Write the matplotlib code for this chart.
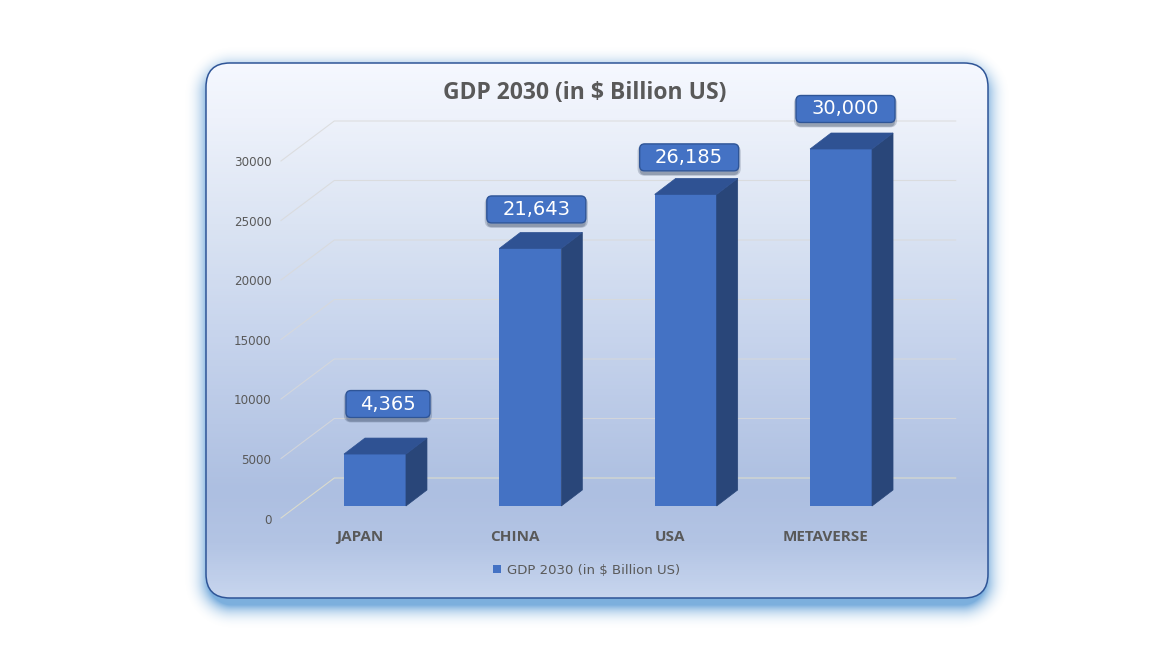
import numpy as np
import matplotlib
matplotlib.use('Agg')
import matplotlib.pyplot as plt
from matplotlib.patches import FancyBboxPatch
from matplotlib.colors import LinearSegmentedColormap
import matplotlib.patheffects as pe
from matplotlib.transforms import Affine2D

# data
categories = ['JAPAN', 'CHINA', 'USA', 'METAVERSE']
gdp = [4365, 21643, 26185, 30000]
gdp_labels = ['4,365', '21,643', '26,185', '30,000']
y_ticks = [0, 5000, 10000, 15000, 20000, 25000, 30000]
series_name = 'GDP 2030 (in $ Billion US)'

# layout, in pixels
W, H = 1170, 657
panel = (206, 63, 988, 598)
radius = 24
plot_left, plot_right, plot_top, plot_bottom = 297.3, 918.7, 149, 506
bar_depth = (21, 16)
wall_front = (-16.3, -12)
wall_back = (37, 28)
label_shift = [(13, 50), (6, 39), (3.5, 37), (4.5, 40)]
label_width = [84, 99, 99, 99]
label_height = 27

plt.rcParams['font.family'] = ['DejaVu Sans']
text_grey = '#595959'
blue = '#4472c4'
blue_top = '#2f5293'
blue_side = '#294679'

fig = plt.figure(figsize=(W / 100, H / 100), dpi=100)

# background: glow + gradient panel
bg = fig.add_axes([0, 0, 1, 1])
bg.set_xlim(0, W)
bg.set_ylim(H, 0)
bg.axis('off')

xx, yy = np.meshgrid(np.arange(W) + 0.5, np.arange(H) + 0.5)
cx, cy = (panel[0] + panel[2]) / 2, (panel[1] + panel[3]) / 2 + 7
qx = np.abs(xx - cx) - ((panel[2] - panel[0]) / 2 - radius - 2)
qy = np.abs(yy - cy) - ((panel[3] - panel[1]) / 2 - radius)
dist = np.hypot(np.maximum(qx, 0), np.maximum(qy, 0)) + np.minimum(np.maximum(qx, qy), 0) - radius
glow = np.zeros((H, W, 4))
glow[..., :3] = matplotlib.colors.to_rgb('#5b9bd5')
glow[..., 3] = 0.8 * np.clip(1 - np.clip(dist, 0, None) / 26, 0, 1) ** 2.6
bg.imshow(glow, extent=(0, W, H, 0), aspect='auto', zorder=1)

grad_cmap = LinearSegmentedColormap.from_list('panel', [
    (0.0, '#f5f8ff'), (0.1, '#eef2fb'), (0.3, '#dbe4f3'), (0.5, '#c8d5ed'),
    (0.8, '#adbfe1'), (0.9, '#b3c4e4'), (1.0, '#c7d5ee')])
panel_box = FancyBboxPatch((panel[0], panel[1]), panel[2] - panel[0], panel[3] - panel[1],
                           boxstyle='round,pad=0,rounding_size=%d' % radius,
                           fc='none', ec='#2f5597', lw=1.1, zorder=3)
bg.add_patch(panel_box)
grad = bg.imshow(np.linspace(0, 1, 535)[:, None], cmap=grad_cmap, aspect='auto', zorder=2,
                 extent=(panel[0], panel[2], panel[3], panel[1]))
grad.set_clip_path(panel_box)

# main plot, the bars' front plane
ax = fig.add_axes([plot_left / W, 1 - plot_bottom / H,
                   (plot_right - plot_left) / W, (plot_bottom - plot_top) / H])
ax.patch.set_alpha(0)
ax.set_xlim(-0.5, 3.5)
ax.set_ylim(0, 30000)
for s in ax.spines.values():
    s.set_visible(False)

px_x = (plot_right - plot_left) / 4
px_y = (plot_bottom - plot_top) / 30000

# grid: back wall and the left side wall
for v in y_ticks:
    fx, fy = wall_front[0] / px_x - 0.5, v + wall_front[1] / px_y
    bx, by = wall_back[0] / px_x - 0.5, v + wall_back[1] / px_y
    rx = wall_back[0] / px_x + 3.5
    col = '#e6e2c8' if v == 0 else '#d9d9d9'
    ax.plot([fx, bx, rx], [fy, by, by], color=col, lw=0.8, clip_on=False, zorder=1,
            alpha=0.8, solid_joinstyle='miter')

# bars
x = np.arange(len(categories))
bar_w = 62 / px_x
ax.bar(x, gdp, width=bar_w, color=blue, zorder=3, label=series_name, clip_on=False)
dx, dy = bar_depth[0] / px_x, bar_depth[1] / px_y
for xi, v in zip(x, gdp):
    x0, x1 = xi - bar_w / 2, xi + bar_w / 2
    ax.fill([x1, x1 + dx, x1 + dx, x1], [0, dy, v + dy, v], color=blue_side, lw=0.5, zorder=3, clip_on=False)
    ax.fill([x0, x0 + dx, x1 + dx, x1], [v, v + dy, v + dy, v], color=blue_top, lw=0.5, zorder=3, clip_on=False)

# value callouts
for xi, v, lab, shift, w in zip(x, gdp, gdp_labels, label_shift, label_width):
    px, py = ax.transData.transform((xi, v))
    px, py = px + shift[0], py + shift[1]
    box = FancyBboxPatch((px - w / 2, py - label_height / 2), w, label_height,
                         boxstyle='round,pad=0,rounding_size=5', fc=blue, ec='#2f5597', lw=1,
                         transform=None, zorder=5, clip_on=False)
    box.set_path_effects([
        pe.SimpleLineShadow(offset=(0, -2), shadow_color='#3a4a66', alpha=0.25, linewidth=3),
        pe.SimplePatchShadow(offset=(0, -3), shadow_rgbFace='#3a4a66', alpha=0.3), pe.Normal()])
    ax.add_patch(box)
    ax.annotate(lab, (xi, v), xytext=shift, textcoords='offset pixels', annotation_clip=False,
                ha='center', va='center', color='white', fontsize=14, zorder=6)

# tick labels
ax.set_yticks(y_ticks)
ax.set_yticklabels([str(v) for v in y_ticks], color=text_grey, fontsize=8.6)
ax.tick_params(axis='y', length=0, pad=18.5)
ax.set_xticks(x)
ax.set_xticklabels(categories, color=text_grey, fontsize=11, fontweight='bold', family='Open Sans')
ax.tick_params(axis='x', length=0, pad=17)
for lab in ax.get_yticklabels():
    lab.set_transform(lab.get_transform() + Affine2D().translate(0, -12.5))
for lab in ax.get_xticklabels():
    lab.set_transform(lab.get_transform() + Affine2D().translate(-15.5, 0))

fig.text(584.5 / W, 1 - 92.5 / H, series_name, ha='center', va='center', family='Open Sans',
         color=text_grey, fontsize=16.5, fontweight='bold')

ax.legend(loc='center', bbox_to_anchor=(586.5 / W, 1 - 570 / H), bbox_transform=fig.transFigure,
          frameon=False, fontsize=9.5, labelcolor=text_grey, handlelength=0.55, handleheight=0.55,
          handletextpad=0.45, borderpad=0)

fig.savefig('out.png', dpi=100)
